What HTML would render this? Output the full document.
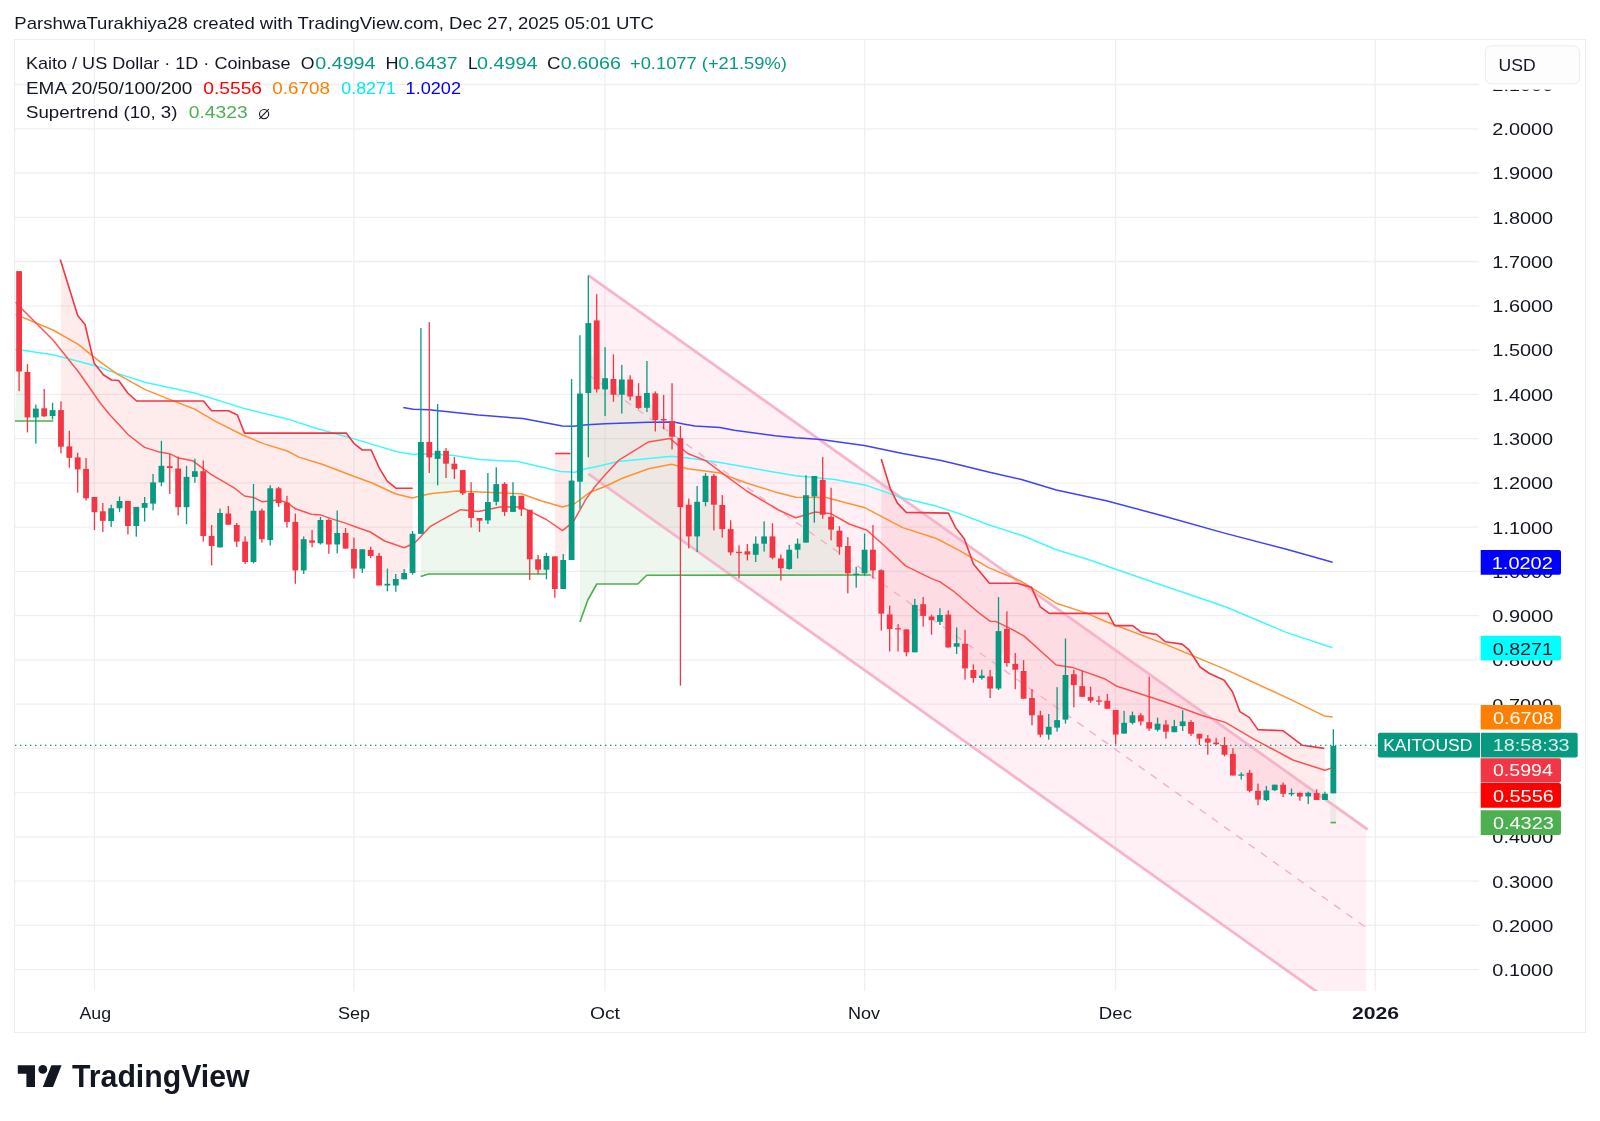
<!DOCTYPE html>
<html><head><meta charset="utf-8"><title>Kaito / US Dollar chart</title>
<style>html,body{margin:0;padding:0;background:#ffffff;width:1600px;height:1121px;overflow:hidden;position:relative;font-family:"Liberation Sans",sans-serif}</style>
</head><body>
<svg width="1600" height="1121" viewBox="0 0 1600 1121" style="position:absolute;left:0;top:0;will-change:transform">
<defs><clipPath id="pane"><rect x="15" y="40" width="1464" height="951"/></clipPath></defs>
<g stroke="#efefef" stroke-width="1.3"><line x1="15" y1="969.7" x2="1479" y2="969.7"/><line x1="15" y1="925.4" x2="1479" y2="925.4"/><line x1="15" y1="881.2" x2="1479" y2="881.2"/><line x1="15" y1="836.9" x2="1479" y2="836.9"/><line x1="15" y1="792.7" x2="1479" y2="792.7"/><line x1="15" y1="748.4" x2="1479" y2="748.4"/><line x1="15" y1="704.1" x2="1479" y2="704.1"/><line x1="15" y1="659.9" x2="1479" y2="659.9"/><line x1="15" y1="615.6" x2="1479" y2="615.6"/><line x1="15" y1="571.4" x2="1479" y2="571.4"/><line x1="15" y1="527.1" x2="1479" y2="527.1"/><line x1="15" y1="482.8" x2="1479" y2="482.8"/><line x1="15" y1="438.6" x2="1479" y2="438.6"/><line x1="15" y1="394.3" x2="1479" y2="394.3"/><line x1="15" y1="350.1" x2="1479" y2="350.1"/><line x1="15" y1="305.8" x2="1479" y2="305.8"/><line x1="15" y1="261.5" x2="1479" y2="261.5"/><line x1="15" y1="217.3" x2="1479" y2="217.3"/><line x1="15" y1="173.0" x2="1479" y2="173.0"/><line x1="15" y1="128.8" x2="1479" y2="128.8"/><line x1="15" y1="84.5" x2="1479" y2="84.5"/><line x1="94.4" y1="40" x2="94.4" y2="991"/><line x1="353.9" y1="40" x2="353.9" y2="991"/><line x1="605.1" y1="40" x2="605.1" y2="991"/><line x1="864.6" y1="40" x2="864.6" y2="991"/><line x1="1115.7" y1="40" x2="1115.7" y2="991"/><line x1="1375.2" y1="40" x2="1375.2" y2="991"/></g>
<g clip-path="url(#pane)">
<polygon points="15.0,421.0 27.5,421.0 35.8,421.0 44.2,421.0 52.6,421.0 52.6,413.1 44.2,412.3 35.8,413.0 27.5,394.7 19.1,321.3" fill="rgba(76,175,80,0.1)"/>
<polygon points="61.0,261.7 69.3,288.5 77.7,315.4 86.1,329.0 94.4,363.3 102.8,374.2 111.2,379.7 119.6,381.7 127.9,393.2 136.3,400.7 144.7,401.0 153.0,401.0 161.4,401.0 169.8,401.0 178.1,401.0 186.5,401.0 194.9,401.0 203.3,401.0 211.6,410.8 220.0,410.8 228.4,410.8 236.7,414.7 245.1,433.1 253.5,433.1 261.9,433.1 270.2,433.1 278.6,433.1 287.0,433.1 295.3,433.1 303.7,433.0 312.1,433.0 320.5,433.0 328.8,433.0 337.2,433.0 345.6,433.0 353.9,443.4 362.3,450.0 370.7,450.0 379.1,467.5 387.4,481.4 395.8,488.0 404.2,488.3 412.5,488.3 412.5,553.4 404.2,576.1 395.8,582.2 387.4,584.6 379.1,570.6 370.7,553.0 362.3,559.0 353.9,558.8 345.6,540.8 337.2,538.8 328.8,532.2 320.5,531.6 312.1,541.5 303.7,554.8 295.3,546.1 287.0,512.2 278.6,495.7 270.2,514.1 261.9,524.9 253.5,536.4 245.1,551.8 236.7,533.3 228.4,519.1 220.0,530.2 211.6,541.0 203.3,503.6 194.9,474.0 186.5,492.0 178.1,487.9 169.8,467.1 161.4,474.1 153.0,493.0 144.7,505.4 136.3,516.5 127.9,513.5 119.6,504.6 111.2,514.6 102.8,516.0 94.4,504.6 86.1,483.6 77.7,463.4 69.3,452.1 61.0,428.4" fill="rgba(242,54,69,0.1)"/>
<polygon points="420.9,576.5 429.3,574.0 437.7,574.0 446.0,574.0 454.4,574.0 462.8,574.0 471.1,574.0 479.5,574.0 487.9,574.0 496.2,574.0 504.6,574.0 513.0,574.0 521.4,574.0 529.7,574.0 538.1,574.0 546.5,574.0 546.5,562.9 538.1,564.5 529.7,534.5 521.4,502.6 513.0,503.9 504.6,497.9 496.2,493.0 487.9,511.2 479.5,519.4 471.1,505.5 462.8,481.8 454.4,466.5 446.0,457.2 437.7,454.9 429.3,449.7 420.9,487.9" fill="rgba(76,175,80,0.1)"/>
<polygon points="554.8,453.5 563.2,453.5 571.6,453.5 571.6,520.3 563.2,574.5 554.8,572.7" fill="rgba(242,54,69,0.1)"/>
<polygon points="580.0,622.1 588.3,599.1 596.7,584.2 605.1,584.0 613.4,584.0 621.8,584.0 630.2,584.0 638.6,583.3 646.9,575.3 655.3,575.3 663.7,575.3 672.0,575.3 680.4,575.3 688.8,575.2 697.2,575.2 705.5,575.2 713.9,575.2 722.3,575.2 730.6,575.2 739.0,575.2 747.4,575.2 755.7,575.2 764.1,575.1 772.5,575.1 780.9,575.1 789.2,575.1 797.6,575.1 806.0,575.1 814.3,575.1 822.7,575.1 831.1,575.1 839.5,575.0 847.8,575.0 856.2,575.0 864.6,575.0 872.9,575.0 872.9,560.0 864.6,561.5 856.2,574.1 847.8,559.6 839.5,538.8 831.1,523.2 822.7,497.2 814.3,486.2 806.0,518.9 797.6,546.7 789.2,559.4 780.9,563.4 772.5,547.0 764.1,540.0 755.7,549.2 747.4,552.9 739.0,552.3 730.6,540.8 722.3,517.0 713.9,490.2 705.5,488.9 697.2,519.1 688.8,520.5 680.4,472.6 672.0,428.9 663.7,419.7 655.3,406.7 646.9,400.4 638.6,401.9 630.2,388.0 621.8,387.1 613.4,386.9 605.1,383.8 596.7,354.9 588.3,358.1 580.0,437.6" fill="rgba(76,175,80,0.1)"/>
<polygon points="881.3,458.9 889.7,486.6 898.1,503.8 906.4,512.4 914.8,512.5 923.2,512.7 931.5,512.8 939.9,513.0 948.3,513.1 956.7,528.9 965.0,540.7 973.4,564.0 981.8,574.1 990.1,583.3 998.5,583.3 1006.9,583.3 1015.2,583.3 1023.6,585.1 1032.0,588.7 1040.4,606.8 1048.7,613.1 1057.1,613.4 1065.5,613.4 1073.8,613.4 1082.2,613.4 1090.6,613.4 1099.0,613.4 1107.3,613.4 1115.7,625.6 1124.1,625.6 1132.4,625.6 1140.8,631.9 1149.2,633.3 1157.6,635.1 1165.9,641.8 1174.3,643.0 1182.7,644.6 1191.0,652.9 1199.4,665.9 1207.8,672.4 1216.2,676.5 1224.5,680.8 1232.9,692.8 1241.3,712.5 1249.6,717.8 1258.0,729.6 1266.4,730.0 1274.8,730.4 1283.1,730.8 1291.5,737.0 1299.9,743.3 1308.2,746.1 1316.6,747.3 1325.0,748.4 1325.0,796.9 1316.6,796.5 1308.2,794.6 1299.9,794.8 1291.5,793.4 1283.1,789.2 1274.8,787.5 1266.4,795.3 1258.0,795.2 1249.6,781.8 1241.3,774.7 1232.9,764.7 1224.5,749.9 1216.2,743.4 1207.8,740.6 1199.4,736.2 1191.0,727.9 1182.7,723.8 1174.3,729.2 1165.9,728.1 1157.6,726.8 1149.2,725.4 1140.8,718.4 1132.4,719.0 1124.1,728.2 1115.7,722.3 1107.3,704.8 1099.0,700.6 1090.6,699.0 1082.2,691.5 1073.8,679.7 1065.5,697.3 1057.1,723.9 1048.7,730.7 1040.4,725.0 1032.0,706.6 1023.6,684.9 1015.2,666.8 1006.9,646.0 998.5,659.8 990.1,682.5 981.8,676.8 973.4,674.0 965.0,656.1 956.7,645.0 948.3,631.0 939.9,618.4 931.5,618.4 923.2,610.0 914.8,628.6 906.4,640.8 898.1,628.8 889.7,621.7 881.3,591.9" fill="rgba(242,54,69,0.1)"/>
<polygon points="1333.3,822.6 1333.3,769.6" fill="rgba(76,175,80,0.1)"/>
<rect x="1330.3" y="769.6" width="6" height="53.0" fill="rgba(76,175,80,0.1)"/>
<polygon points="588.4,275.4 1366.3,828.5 1366.3,1026.9 588.4,473.8" fill="rgba(233,30,99,0.065)"/>
<line x1="588.4" y1="275.4" x2="1367.7" y2="829.5" stroke="#f6b4cd" stroke-width="2.8"/>
<line x1="588.4" y1="473.8" x2="1366.3" y2="1026.9" stroke="#f6b4cd" stroke-width="2.8"/>
<line x1="588.4" y1="374.6" x2="1366.3" y2="927.7" stroke="#f4b0c8" stroke-width="1.4" stroke-dasharray="7.5 7.5"/>
<polyline points="403.3,407.6 413.2,409.3 429.2,409.8 478.5,415.0 523.0,418.6 562.4,425.9 573.1,426.3 587.0,424.8 605.0,423.8 648.5,422.3 673.5,422.1 683.5,424.0 694.9,425.9 720.0,427.5 734.2,430.3 775.0,435.7 795.7,437.8 820.7,439.6 864.2,445.5 902.7,453.5 940.0,460.2 960.0,464.9 988.5,472.1 1020.6,479.3 1056.3,490.0 1106.3,500.7 1165.2,516.5 1225.4,533.4 1285.6,549.0 1332.6,562.3" fill="none" stroke="#4040ff" stroke-width="1.5" stroke-linejoin="round"/>
<polyline points="15.5,349.2 53.0,354.7 100.0,367.1 110.0,371.1 144.6,382.3 194.6,393.0 246.3,409.1 287.3,418.9 316.8,428.5 352.4,438.4 397.0,451.7 413.1,454.4 425.0,453.8 451.8,455.3 480.0,459.4 517.8,461.6 560.6,471.4 574.9,472.3 585.6,468.7 595.0,466.9 618.2,461.6 671.7,456.2 687.8,458.0 719.9,462.4 775.0,472.3 795.7,475.8 834.9,479.4 867.0,485.6 902.7,498.1 935.0,505.7 960.0,513.9 988.5,524.7 1024.2,536.3 1056.3,549.7 1088.4,559.5 1115.0,569.0 1165.2,586.3 1225.4,606.8 1285.6,632.1 1332.6,647.8" fill="none" stroke="#40f8ff" stroke-width="1.5" stroke-linejoin="round"/>
<polyline points="15.5,314.4 53.0,330.0 78.6,344.6 100.0,361.8 117.8,374.3 144.6,389.4 171.4,400.1 194.6,409.1 216.0,421.6 242.7,435.0 264.1,443.9 287.3,451.0 298.9,457.1 322.1,464.2 352.4,475.8 372.1,483.0 395.3,493.7 412.2,498.1 430.0,493.7 457.1,491.0 496.4,492.8 521.3,493.7 541.0,500.8 562.4,507.0 574.9,503.5 589.1,492.8 605.0,486.5 621.8,478.5 648.5,468.7 671.7,464.2 687.8,468.7 719.9,473.1 746.6,483.0 775.0,491.9 795.7,497.2 825.7,497.5 864.2,507.4 902.7,527.6 936.5,538.5 960.0,550.8 988.5,567.6 1020.6,580.9 1056.3,603.2 1086.6,613.1 1105.0,621.3 1165.2,644.1 1225.4,669.4 1285.6,697.1 1324.2,715.9 1332.6,716.9" fill="none" stroke="#ff9233" stroke-width="1.5" stroke-linejoin="round"/>
<polyline points="15.5,302.2 21.0,308.0 53.0,340.0 78.6,372.0 100.0,402.8 110.0,415.0 128.5,435.0 144.6,447.4 158.9,451.9 169.6,453.7 178.5,458.1 192.8,460.8 210.6,474.2 233.8,487.6 244.5,496.0 253.4,497.4 262.4,501.8 278.4,500.0 287.3,502.7 295.4,508.8 311.4,514.2 321.2,515.1 331.0,518.6 345.3,523.1 356.0,527.0 370.3,532.0 384.6,541.0 404.2,547.7 414.9,542.7 430.0,526.7 439.3,521.3 460.7,509.7 478.5,511.5 500.0,507.0 521.3,507.0 532.0,512.4 546.3,519.5 562.4,530.6 573.1,522.2 585.6,499.9 595.0,486.5 605.0,474.9 618.2,460.7 648.5,441.9 669.9,438.4 687.8,453.5 705.6,460.7 727.0,476.7 746.6,491.0 777.8,509.7 795.7,517.8 815.3,512.0 831.4,513.8 849.2,524.0 867.0,530.2 884.9,546.3 905.6,565.9 931.0,578.4 940.0,581.9 954.2,591.7 979.2,613.1 989.9,621.2 996.2,621.6 1010.0,628.3 1024.1,636.1 1056.2,665.0 1072.3,667.4 1104.4,678.7 1117.0,686.3 1165.2,702.0 1201.3,715.2 1225.4,722.4 1254.3,739.3 1292.9,760.0 1324.9,770.3 1330.9,768.3" fill="none" stroke="#ff5252" stroke-width="1.5" stroke-linejoin="round"/>
<polyline points="60.3,259.6 77.7,315.4 85.0,324.5 94.1,362.9 103.3,374.8 111.6,380.0 118.7,380.5 127.7,393.0 136.6,401.0 203.5,401.0 211.5,410.8 228.5,410.8 237.4,415.0 244.5,433.1 346.2,433.0 354.2,443.7 362.3,450.0 371.2,450.0 379.2,467.8 387.2,481.2 396.2,488.3 412.7,488.3" fill="none" stroke="#F23645" stroke-width="1.6" stroke-linejoin="round"/>
<polyline points="555.2,453.5 570.4,453.5" fill="none" stroke="#F23645" stroke-width="1.6" stroke-linejoin="round"/>
<polyline points="881.3,458.9 890.2,488.3 897.4,503.1 906.3,512.4 948.4,513.1 955.5,527.4 964.4,539.0 973.4,564.0 989.4,583.3 1017.1,583.3 1031.3,587.2 1040.3,606.8 1049.2,613.4 1108.1,613.4 1114.6,625.6 1132.7,625.6 1141.1,632.1 1156.8,634.5 1165.2,641.7 1182.1,644.1 1189.3,650.2 1200.1,667.0 1208.6,673.0 1224.2,680.3 1232.7,692.3 1239.9,711.6 1249.5,717.6 1257.9,729.6 1283.2,730.8 1302.5,745.3 1324.2,748.4" fill="none" stroke="#F23645" stroke-width="1.6" stroke-linejoin="round"/>
<polyline points="15.0,421.0 53.3,421.0" fill="none" stroke="#4CAF50" stroke-width="1.6" stroke-linejoin="round"/>
<polyline points="420.6,576.6 428.6,574.0 546.3,574.0" fill="none" stroke="#4CAF50" stroke-width="1.6" stroke-linejoin="round"/>
<polyline points="580.0,622.1 587.8,600.0 596.8,584.0 637.8,584.0 646.7,575.3 870.6,575.0" fill="none" stroke="#4CAF50" stroke-width="1.6" stroke-linejoin="round"/>
<polyline points="1330.5,822.6 1336.0,822.6" fill="none" stroke="#4CAF50" stroke-width="1.6" stroke-linejoin="round"/>
<rect x="18.45" y="271.1" width="1.3" height="120.1" fill="#F23645"/><rect x="16.20" y="271.1" width="5.8" height="100.4" fill="#F23645"/><rect x="26.82" y="364.2" width="1.3" height="68.2" fill="#F23645"/><rect x="24.57" y="372.0" width="5.8" height="45.4" fill="#F23645"/><rect x="35.19" y="404.6" width="1.3" height="39.1" fill="#089981"/><rect x="32.94" y="408.6" width="5.8" height="8.8" fill="#089981"/><rect x="43.56" y="389.0" width="1.3" height="28.0" fill="#F23645"/><rect x="41.31" y="408.3" width="5.8" height="8.0" fill="#F23645"/><rect x="51.93" y="402.8" width="1.3" height="16.8" fill="#089981"/><rect x="49.68" y="410.1" width="5.8" height="5.9" fill="#089981"/><rect x="60.31" y="401.3" width="1.3" height="52.1" fill="#F23645"/><rect x="58.06" y="410.1" width="5.8" height="36.6" fill="#F23645"/><rect x="68.68" y="430.7" width="1.3" height="36.9" fill="#F23645"/><rect x="66.43" y="446.4" width="5.8" height="11.4" fill="#F23645"/><rect x="77.05" y="452.8" width="1.3" height="39.8" fill="#F23645"/><rect x="74.80" y="457.4" width="5.8" height="12.0" fill="#F23645"/><rect x="85.42" y="458.0" width="1.3" height="42.6" fill="#F23645"/><rect x="83.17" y="468.9" width="5.8" height="29.4" fill="#F23645"/><rect x="93.79" y="497.0" width="1.3" height="33.0" fill="#F23645"/><rect x="91.54" y="497.0" width="5.8" height="15.2" fill="#F23645"/><rect x="102.16" y="503.0" width="1.3" height="29.0" fill="#F23645"/><rect x="99.91" y="511.3" width="5.8" height="9.5" fill="#F23645"/><rect x="110.53" y="504.7" width="1.3" height="22.3" fill="#089981"/><rect x="108.28" y="508.3" width="5.8" height="12.7" fill="#089981"/><rect x="118.90" y="496.5" width="1.3" height="15.4" fill="#089981"/><rect x="116.65" y="501.0" width="5.8" height="7.3" fill="#089981"/><rect x="127.27" y="501.0" width="1.3" height="33.5" fill="#F23645"/><rect x="125.02" y="501.0" width="5.8" height="25.0" fill="#F23645"/><rect x="135.64" y="506.9" width="1.3" height="29.8" fill="#089981"/><rect x="133.39" y="506.9" width="5.8" height="19.1" fill="#089981"/><rect x="144.02" y="497.0" width="1.3" height="24.5" fill="#089981"/><rect x="141.77" y="503.0" width="5.8" height="4.8" fill="#089981"/><rect x="152.39" y="473.9" width="1.3" height="36.5" fill="#089981"/><rect x="150.14" y="482.4" width="5.8" height="21.2" fill="#089981"/><rect x="160.76" y="440.8" width="1.3" height="45.5" fill="#089981"/><rect x="158.51" y="465.8" width="5.8" height="16.6" fill="#089981"/><rect x="169.13" y="454.2" width="1.3" height="39.8" fill="#F23645"/><rect x="166.88" y="466.2" width="5.8" height="1.8" fill="#F23645"/><rect x="177.50" y="456.5" width="1.3" height="58.9" fill="#F23645"/><rect x="175.25" y="468.5" width="5.8" height="38.7" fill="#F23645"/><rect x="185.87" y="465.8" width="1.3" height="58.4" fill="#089981"/><rect x="183.62" y="476.9" width="5.8" height="30.3" fill="#089981"/><rect x="194.24" y="458.7" width="1.3" height="24.1" fill="#089981"/><rect x="191.99" y="471.2" width="5.8" height="5.7" fill="#089981"/><rect x="202.61" y="460.5" width="1.3" height="81.1" fill="#F23645"/><rect x="200.36" y="471.2" width="5.8" height="64.8" fill="#F23645"/><rect x="210.98" y="525.0" width="1.3" height="40.4" fill="#F23645"/><rect x="208.73" y="536.0" width="5.8" height="10.0" fill="#F23645"/><rect x="219.35" y="508.6" width="1.3" height="38.8" fill="#089981"/><rect x="217.10" y="513.0" width="5.8" height="34.4" fill="#089981"/><rect x="227.72" y="506.0" width="1.3" height="18.7" fill="#F23645"/><rect x="225.47" y="513.5" width="5.8" height="11.2" fill="#F23645"/><rect x="236.10" y="523.0" width="1.3" height="24.0" fill="#F23645"/><rect x="233.85" y="525.0" width="5.8" height="16.6" fill="#F23645"/><rect x="244.47" y="536.3" width="1.3" height="27.7" fill="#F23645"/><rect x="242.22" y="541.6" width="5.8" height="20.4" fill="#F23645"/><rect x="252.84" y="484.0" width="1.3" height="79.4" fill="#089981"/><rect x="250.59" y="510.8" width="5.8" height="51.2" fill="#089981"/><rect x="261.21" y="508.6" width="1.3" height="34.1" fill="#F23645"/><rect x="258.96" y="510.6" width="5.8" height="28.6" fill="#F23645"/><rect x="269.58" y="485.3" width="1.3" height="60.1" fill="#089981"/><rect x="267.33" y="488.3" width="5.8" height="51.7" fill="#089981"/><rect x="277.95" y="487.0" width="1.3" height="20.0" fill="#F23645"/><rect x="275.70" y="488.3" width="5.8" height="14.8" fill="#F23645"/><rect x="286.32" y="495.8" width="1.3" height="31.8" fill="#F23645"/><rect x="284.07" y="502.6" width="5.8" height="19.3" fill="#F23645"/><rect x="294.69" y="513.6" width="1.3" height="70.2" fill="#F23645"/><rect x="292.44" y="521.9" width="5.8" height="48.5" fill="#F23645"/><rect x="303.06" y="536.5" width="1.3" height="37.5" fill="#089981"/><rect x="300.81" y="539.2" width="5.8" height="31.2" fill="#089981"/><rect x="311.44" y="529.9" width="1.3" height="17.3" fill="#F23645"/><rect x="309.19" y="540.4" width="5.8" height="2.3" fill="#F23645"/><rect x="319.81" y="516.9" width="1.3" height="27.6" fill="#089981"/><rect x="317.56" y="520.0" width="5.8" height="23.3" fill="#089981"/><rect x="328.18" y="518.6" width="1.3" height="35.2" fill="#F23645"/><rect x="325.93" y="520.0" width="5.8" height="24.5" fill="#F23645"/><rect x="336.55" y="510.6" width="1.3" height="42.8" fill="#089981"/><rect x="334.30" y="533.0" width="5.8" height="11.5" fill="#089981"/><rect x="344.92" y="528.0" width="1.3" height="20.6" fill="#F23645"/><rect x="342.67" y="533.0" width="5.8" height="15.6" fill="#F23645"/><rect x="353.29" y="537.7" width="1.3" height="40.7" fill="#F23645"/><rect x="351.04" y="549.0" width="5.8" height="19.6" fill="#F23645"/><rect x="361.66" y="549.3" width="1.3" height="23.7" fill="#089981"/><rect x="359.41" y="549.3" width="5.8" height="19.3" fill="#089981"/><rect x="370.03" y="546.8" width="1.3" height="11.2" fill="#F23645"/><rect x="367.78" y="549.9" width="5.8" height="6.1" fill="#F23645"/><rect x="378.40" y="553.0" width="1.3" height="32.5" fill="#F23645"/><rect x="376.15" y="555.8" width="5.8" height="29.7" fill="#F23645"/><rect x="386.77" y="568.6" width="1.3" height="22.7" fill="#089981"/><rect x="384.52" y="583.8" width="5.8" height="1.7" fill="#089981"/><rect x="395.15" y="574.0" width="1.3" height="17.8" fill="#089981"/><rect x="392.90" y="579.0" width="5.8" height="6.5" fill="#089981"/><rect x="403.52" y="569.0" width="1.3" height="10.3" fill="#089981"/><rect x="401.27" y="573.0" width="5.8" height="6.3" fill="#089981"/><rect x="411.89" y="531.0" width="1.3" height="43.8" fill="#089981"/><rect x="409.64" y="533.8" width="5.8" height="39.2" fill="#089981"/><rect x="420.26" y="327.9" width="1.3" height="205.9" fill="#089981"/><rect x="418.01" y="442.0" width="5.8" height="91.8" fill="#089981"/><rect x="428.63" y="322.1" width="1.3" height="150.9" fill="#F23645"/><rect x="426.38" y="442.0" width="5.8" height="15.4" fill="#F23645"/><rect x="437.00" y="404.0" width="1.3" height="81.3" fill="#089981"/><rect x="434.75" y="450.8" width="5.8" height="8.1" fill="#089981"/><rect x="445.37" y="448.0" width="1.3" height="30.0" fill="#F23645"/><rect x="443.12" y="450.8" width="5.8" height="12.9" fill="#F23645"/><rect x="453.74" y="457.0" width="1.3" height="22.0" fill="#F23645"/><rect x="451.49" y="463.7" width="5.8" height="5.6" fill="#F23645"/><rect x="462.11" y="470.1" width="1.3" height="24.9" fill="#F23645"/><rect x="459.86" y="470.1" width="5.8" height="23.3" fill="#F23645"/><rect x="470.48" y="482.2" width="1.3" height="45.3" fill="#F23645"/><rect x="468.23" y="493.0" width="5.8" height="25.0" fill="#F23645"/><rect x="478.86" y="518.0" width="1.3" height="14.0" fill="#F23645"/><rect x="476.61" y="518.0" width="5.8" height="2.7" fill="#F23645"/><rect x="487.23" y="473.0" width="1.3" height="51.0" fill="#089981"/><rect x="484.98" y="502.0" width="5.8" height="18.4" fill="#089981"/><rect x="495.60" y="467.3" width="1.3" height="38.2" fill="#089981"/><rect x="493.35" y="484.1" width="5.8" height="17.7" fill="#089981"/><rect x="503.97" y="482.2" width="1.3" height="33.8" fill="#F23645"/><rect x="501.72" y="483.8" width="5.8" height="28.1" fill="#F23645"/><rect x="512.34" y="482.2" width="1.3" height="29.7" fill="#089981"/><rect x="510.09" y="495.8" width="5.8" height="16.1" fill="#089981"/><rect x="520.71" y="495.8" width="1.3" height="20.2" fill="#F23645"/><rect x="518.46" y="495.8" width="5.8" height="13.7" fill="#F23645"/><rect x="529.08" y="509.8" width="1.3" height="70.2" fill="#F23645"/><rect x="526.83" y="509.8" width="5.8" height="49.5" fill="#F23645"/><rect x="537.45" y="555.0" width="1.3" height="19.2" fill="#F23645"/><rect x="535.20" y="559.3" width="5.8" height="10.4" fill="#F23645"/><rect x="545.82" y="552.8" width="1.3" height="26.5" fill="#089981"/><rect x="543.57" y="556.0" width="5.8" height="13.7" fill="#089981"/><rect x="554.19" y="556.4" width="1.3" height="41.4" fill="#F23645"/><rect x="551.94" y="556.4" width="5.8" height="32.6" fill="#F23645"/><rect x="562.57" y="554.0" width="1.3" height="35.0" fill="#089981"/><rect x="560.32" y="560.0" width="5.8" height="29.0" fill="#089981"/><rect x="570.94" y="379.0" width="1.3" height="181.0" fill="#089981"/><rect x="568.69" y="480.6" width="5.8" height="79.4" fill="#089981"/><rect x="579.31" y="335.2" width="1.3" height="173.5" fill="#089981"/><rect x="577.06" y="393.5" width="5.8" height="88.2" fill="#089981"/><rect x="587.68" y="275.4" width="1.3" height="181.9" fill="#089981"/><rect x="585.43" y="323.1" width="5.8" height="69.9" fill="#089981"/><rect x="596.05" y="294.2" width="1.3" height="98.4" fill="#F23645"/><rect x="593.80" y="320.4" width="5.8" height="69.0" fill="#F23645"/><rect x="604.42" y="347.2" width="1.3" height="68.8" fill="#089981"/><rect x="602.17" y="378.2" width="5.8" height="11.2" fill="#089981"/><rect x="612.79" y="354.4" width="1.3" height="47.4" fill="#F23645"/><rect x="610.54" y="379.0" width="5.8" height="15.7" fill="#F23645"/><rect x="621.16" y="364.9" width="1.3" height="48.6" fill="#089981"/><rect x="618.91" y="379.5" width="5.8" height="15.2" fill="#089981"/><rect x="629.53" y="375.3" width="1.3" height="25.1" fill="#F23645"/><rect x="627.28" y="379.5" width="5.8" height="17.0" fill="#F23645"/><rect x="637.90" y="383.2" width="1.3" height="25.8" fill="#F23645"/><rect x="635.65" y="395.9" width="5.8" height="12.0" fill="#F23645"/><rect x="646.28" y="361.0" width="1.3" height="51.0" fill="#089981"/><rect x="644.03" y="393.0" width="5.8" height="14.8" fill="#089981"/><rect x="654.65" y="391.4" width="1.3" height="40.1" fill="#F23645"/><rect x="652.40" y="393.4" width="5.8" height="26.6" fill="#F23645"/><rect x="663.02" y="395.0" width="1.3" height="34.3" fill="#F23645"/><rect x="660.77" y="419.0" width="5.8" height="1.4" fill="#F23645"/><rect x="671.39" y="383.2" width="1.3" height="66.3" fill="#F23645"/><rect x="669.14" y="421.0" width="5.8" height="15.7" fill="#F23645"/><rect x="679.76" y="426.0" width="1.3" height="259.6" fill="#F23645"/><rect x="677.51" y="438.1" width="5.8" height="69.0" fill="#F23645"/><rect x="688.13" y="498.6" width="1.3" height="49.8" fill="#F23645"/><rect x="685.88" y="504.7" width="5.8" height="31.7" fill="#F23645"/><rect x="696.50" y="486.0" width="1.3" height="66.0" fill="#089981"/><rect x="694.25" y="501.8" width="5.8" height="34.6" fill="#089981"/><rect x="704.87" y="473.1" width="1.3" height="33.2" fill="#089981"/><rect x="702.62" y="475.8" width="5.8" height="26.2" fill="#089981"/><rect x="713.24" y="474.0" width="1.3" height="56.4" fill="#F23645"/><rect x="710.99" y="475.8" width="5.8" height="28.9" fill="#F23645"/><rect x="721.61" y="495.1" width="1.3" height="42.5" fill="#F23645"/><rect x="719.36" y="505.0" width="5.8" height="24.1" fill="#F23645"/><rect x="729.99" y="520.3" width="1.3" height="35.0" fill="#F23645"/><rect x="727.74" y="529.1" width="5.8" height="23.3" fill="#F23645"/><rect x="738.36" y="545.4" width="1.3" height="32.9" fill="#F23645"/><rect x="736.11" y="551.8" width="5.8" height="1.3" fill="#F23645"/><rect x="746.73" y="544.0" width="1.3" height="16.4" fill="#F23645"/><rect x="744.48" y="551.3" width="5.8" height="3.2" fill="#F23645"/><rect x="755.10" y="536.4" width="1.3" height="25.6" fill="#089981"/><rect x="752.85" y="543.7" width="5.8" height="11.1" fill="#089981"/><rect x="763.47" y="521.3" width="1.3" height="30.3" fill="#089981"/><rect x="761.22" y="536.4" width="5.8" height="7.3" fill="#089981"/><rect x="771.84" y="523.2" width="1.3" height="36.1" fill="#F23645"/><rect x="769.59" y="536.4" width="5.8" height="21.3" fill="#F23645"/><rect x="780.21" y="554.5" width="1.3" height="26.0" fill="#F23645"/><rect x="777.96" y="558.5" width="5.8" height="9.7" fill="#F23645"/><rect x="788.58" y="544.9" width="1.3" height="24.9" fill="#089981"/><rect x="786.33" y="549.7" width="5.8" height="19.3" fill="#089981"/><rect x="796.95" y="538.5" width="1.3" height="20.0" fill="#089981"/><rect x="794.70" y="543.7" width="5.8" height="6.0" fill="#089981"/><rect x="805.32" y="475.2" width="1.3" height="67.4" fill="#089981"/><rect x="803.07" y="495.2" width="5.8" height="47.4" fill="#089981"/><rect x="813.70" y="476.0" width="1.3" height="46.7" fill="#089981"/><rect x="811.45" y="476.0" width="5.8" height="20.5" fill="#089981"/><rect x="822.07" y="456.9" width="1.3" height="61.8" fill="#F23645"/><rect x="819.82" y="479.8" width="5.8" height="34.9" fill="#F23645"/><rect x="830.44" y="487.7" width="1.3" height="52.7" fill="#F23645"/><rect x="828.19" y="516.7" width="5.8" height="12.9" fill="#F23645"/><rect x="838.81" y="526.2" width="1.3" height="28.6" fill="#F23645"/><rect x="836.56" y="530.7" width="5.8" height="16.1" fill="#F23645"/><rect x="847.18" y="537.1" width="1.3" height="56.2" fill="#F23645"/><rect x="844.93" y="546.0" width="5.8" height="27.3" fill="#F23645"/><rect x="855.55" y="566.8" width="1.3" height="20.9" fill="#089981"/><rect x="853.30" y="573.7" width="5.8" height="1.3" fill="#089981"/><rect x="863.92" y="533.6" width="1.3" height="42.1" fill="#089981"/><rect x="861.67" y="549.7" width="5.8" height="23.6" fill="#089981"/><rect x="872.29" y="525.1" width="1.3" height="53.4" fill="#F23645"/><rect x="870.04" y="549.7" width="5.8" height="20.7" fill="#F23645"/><rect x="880.66" y="569.3" width="1.3" height="61.3" fill="#F23645"/><rect x="878.41" y="570.2" width="5.8" height="43.4" fill="#F23645"/><rect x="889.03" y="605.6" width="1.3" height="45.9" fill="#F23645"/><rect x="886.78" y="614.4" width="5.8" height="14.6" fill="#F23645"/><rect x="897.41" y="624.2" width="1.3" height="27.3" fill="#F23645"/><rect x="895.16" y="628.2" width="5.8" height="1.3" fill="#F23645"/><rect x="905.78" y="629.4" width="1.3" height="26.9" fill="#F23645"/><rect x="903.53" y="629.4" width="5.8" height="22.9" fill="#F23645"/><rect x="914.15" y="598.9" width="1.3" height="53.4" fill="#089981"/><rect x="911.90" y="605.0" width="5.8" height="47.3" fill="#089981"/><rect x="922.52" y="597.0" width="1.3" height="29.6" fill="#F23645"/><rect x="920.27" y="604.2" width="5.8" height="11.7" fill="#F23645"/><rect x="930.89" y="614.6" width="1.3" height="20.1" fill="#F23645"/><rect x="928.64" y="616.5" width="5.8" height="3.7" fill="#F23645"/><rect x="939.26" y="608.2" width="1.3" height="16.8" fill="#089981"/><rect x="937.01" y="615.0" width="5.8" height="6.8" fill="#089981"/><rect x="947.63" y="610.3" width="1.3" height="37.2" fill="#F23645"/><rect x="945.38" y="614.6" width="5.8" height="32.9" fill="#F23645"/><rect x="956.00" y="627.4" width="1.3" height="26.5" fill="#089981"/><rect x="953.75" y="643.2" width="5.8" height="3.5" fill="#089981"/><rect x="964.37" y="629.8" width="1.3" height="49.8" fill="#F23645"/><rect x="962.12" y="643.8" width="5.8" height="24.6" fill="#F23645"/><rect x="972.74" y="664.4" width="1.3" height="18.4" fill="#F23645"/><rect x="970.49" y="670.0" width="5.8" height="8.0" fill="#F23645"/><rect x="981.12" y="669.7" width="1.3" height="9.9" fill="#089981"/><rect x="978.87" y="675.6" width="5.8" height="2.4" fill="#089981"/><rect x="989.49" y="670.0" width="1.3" height="28.0" fill="#F23645"/><rect x="987.24" y="676.4" width="5.8" height="12.1" fill="#F23645"/><rect x="997.86" y="597.0" width="1.3" height="93.0" fill="#089981"/><rect x="995.61" y="631.1" width="5.8" height="57.4" fill="#089981"/><rect x="1006.23" y="611.3" width="1.3" height="55.4" fill="#F23645"/><rect x="1003.98" y="629.0" width="5.8" height="34.0" fill="#F23645"/><rect x="1014.60" y="653.0" width="1.3" height="36.2" fill="#F23645"/><rect x="1012.35" y="663.9" width="5.8" height="5.8" fill="#F23645"/><rect x="1022.97" y="660.2" width="1.3" height="38.5" fill="#F23645"/><rect x="1020.72" y="671.0" width="5.8" height="27.7" fill="#F23645"/><rect x="1031.34" y="689.1" width="1.3" height="36.1" fill="#F23645"/><rect x="1029.09" y="698.0" width="5.8" height="17.3" fill="#F23645"/><rect x="1039.71" y="710.8" width="1.3" height="26.5" fill="#F23645"/><rect x="1037.46" y="715.3" width="5.8" height="19.3" fill="#F23645"/><rect x="1048.08" y="714.0" width="1.3" height="25.7" fill="#089981"/><rect x="1045.83" y="726.8" width="5.8" height="7.8" fill="#089981"/><rect x="1056.45" y="687.2" width="1.3" height="44.5" fill="#089981"/><rect x="1054.20" y="720.1" width="5.8" height="7.5" fill="#089981"/><rect x="1064.82" y="638.5" width="1.3" height="85.1" fill="#089981"/><rect x="1062.57" y="675.0" width="5.8" height="44.6" fill="#089981"/><rect x="1073.20" y="669.8" width="1.3" height="37.5" fill="#F23645"/><rect x="1070.95" y="674.2" width="5.8" height="10.9" fill="#F23645"/><rect x="1081.57" y="670.6" width="1.3" height="26.2" fill="#F23645"/><rect x="1079.32" y="686.2" width="5.8" height="10.6" fill="#F23645"/><rect x="1089.94" y="686.7" width="1.3" height="16.1" fill="#F23645"/><rect x="1087.69" y="697.1" width="5.8" height="3.7" fill="#F23645"/><rect x="1098.31" y="696.0" width="1.3" height="9.2" fill="#F23645"/><rect x="1096.06" y="700.4" width="5.8" height="1.3" fill="#F23645"/><rect x="1106.68" y="694.0" width="1.3" height="14.7" fill="#F23645"/><rect x="1104.43" y="700.8" width="5.8" height="7.9" fill="#F23645"/><rect x="1115.05" y="710.0" width="1.3" height="34.5" fill="#F23645"/><rect x="1112.80" y="710.0" width="5.8" height="24.6" fill="#F23645"/><rect x="1123.42" y="710.8" width="1.3" height="22.8" fill="#089981"/><rect x="1121.17" y="722.8" width="5.8" height="10.8" fill="#089981"/><rect x="1131.79" y="711.6" width="1.3" height="12.8" fill="#089981"/><rect x="1129.54" y="715.3" width="5.8" height="7.5" fill="#089981"/><rect x="1140.16" y="713.2" width="1.3" height="12.4" fill="#F23645"/><rect x="1137.91" y="715.3" width="5.8" height="6.2" fill="#F23645"/><rect x="1148.53" y="676.7" width="1.3" height="54.2" fill="#F23645"/><rect x="1146.28" y="722.2" width="5.8" height="6.4" fill="#F23645"/><rect x="1156.91" y="717.6" width="1.3" height="13.9" fill="#089981"/><rect x="1154.66" y="723.7" width="5.8" height="6.1" fill="#089981"/><rect x="1165.28" y="720.1" width="1.3" height="18.5" fill="#F23645"/><rect x="1163.03" y="724.5" width="5.8" height="7.2" fill="#F23645"/><rect x="1173.65" y="719.8" width="1.3" height="12.4" fill="#089981"/><rect x="1171.40" y="726.2" width="5.8" height="6.0" fill="#089981"/><rect x="1182.02" y="710.2" width="1.3" height="20.8" fill="#089981"/><rect x="1179.77" y="721.4" width="5.8" height="4.7" fill="#089981"/><rect x="1190.39" y="720.1" width="1.3" height="15.8" fill="#F23645"/><rect x="1188.14" y="722.0" width="5.8" height="11.8" fill="#F23645"/><rect x="1198.76" y="733.8" width="1.3" height="11.2" fill="#F23645"/><rect x="1196.51" y="733.8" width="5.8" height="4.8" fill="#F23645"/><rect x="1207.13" y="735.0" width="1.3" height="19.7" fill="#F23645"/><rect x="1204.88" y="738.6" width="5.8" height="4.0" fill="#F23645"/><rect x="1215.50" y="737.8" width="1.3" height="7.2" fill="#F23645"/><rect x="1213.25" y="742.6" width="5.8" height="1.6" fill="#F23645"/><rect x="1223.87" y="737.0" width="1.3" height="19.3" fill="#F23645"/><rect x="1221.62" y="745.0" width="5.8" height="9.7" fill="#F23645"/><rect x="1232.24" y="748.2" width="1.3" height="27.3" fill="#F23645"/><rect x="1229.99" y="753.9" width="5.8" height="21.6" fill="#F23645"/><rect x="1240.62" y="772.3" width="1.3" height="7.2" fill="#089981"/><rect x="1238.37" y="774.4" width="5.8" height="1.3" fill="#089981"/><rect x="1248.99" y="769.9" width="1.3" height="22.5" fill="#F23645"/><rect x="1246.74" y="772.8" width="5.8" height="18.0" fill="#F23645"/><rect x="1257.36" y="783.6" width="1.3" height="21.6" fill="#F23645"/><rect x="1255.11" y="790.8" width="5.8" height="8.8" fill="#F23645"/><rect x="1265.73" y="786.0" width="1.3" height="15.2" fill="#089981"/><rect x="1263.48" y="790.5" width="5.8" height="9.6" fill="#089981"/><rect x="1274.10" y="784.7" width="1.3" height="6.4" fill="#089981"/><rect x="1271.85" y="784.7" width="5.8" height="5.5" fill="#089981"/><rect x="1282.47" y="782.5" width="1.3" height="14.6" fill="#F23645"/><rect x="1280.22" y="784.7" width="5.8" height="9.1" fill="#F23645"/><rect x="1290.84" y="788.6" width="1.3" height="7.6" fill="#089981"/><rect x="1288.59" y="793.0" width="5.8" height="1.3" fill="#089981"/><rect x="1299.21" y="792.4" width="1.3" height="8.4" fill="#F23645"/><rect x="1296.96" y="793.0" width="5.8" height="3.6" fill="#F23645"/><rect x="1307.58" y="791.7" width="1.3" height="12.4" fill="#089981"/><rect x="1305.33" y="792.8" width="5.8" height="3.6" fill="#089981"/><rect x="1315.95" y="789.3" width="1.3" height="10.7" fill="#F23645"/><rect x="1313.70" y="793.0" width="5.8" height="7.0" fill="#F23645"/><rect x="1324.33" y="791.7" width="1.3" height="8.3" fill="#089981"/><rect x="1322.08" y="793.7" width="5.8" height="6.3" fill="#089981"/><rect x="1332.70" y="729.2" width="1.3" height="64.1" fill="#089981"/><rect x="1330.45" y="745.9" width="5.8" height="47.4" fill="#089981"/>
<line x1="15" y1="745.4" x2="1479" y2="745.4" stroke="#089981" stroke-width="1.4" stroke-dasharray="1.4 3.6"/>
</g>
<rect x="14.5" y="39.5" width="1571" height="993" fill="none" stroke="#ececec" stroke-width="1"/>
<text id="t_p1" x="1492.37" y="976.10" font-family="Liberation Sans, sans-serif" font-size="17" font-weight="normal" fill="#131722" textLength="60.85" lengthAdjust="spacingAndGlyphs">0.1000</text><text id="t_p2" x="1492.37" y="931.84" font-family="Liberation Sans, sans-serif" font-size="17" font-weight="normal" fill="#131722" textLength="60.85" lengthAdjust="spacingAndGlyphs">0.2000</text><text id="t_p3" x="1492.37" y="887.58" font-family="Liberation Sans, sans-serif" font-size="17" font-weight="normal" fill="#131722" textLength="60.85" lengthAdjust="spacingAndGlyphs">0.3000</text><text id="t_p4" x="1492.37" y="843.32" font-family="Liberation Sans, sans-serif" font-size="17" font-weight="normal" fill="#131722" textLength="60.85" lengthAdjust="spacingAndGlyphs">0.4000</text><text id="t_p5" x="1492.37" y="799.06" font-family="Liberation Sans, sans-serif" font-size="17" font-weight="normal" fill="#131722" textLength="60.85" lengthAdjust="spacingAndGlyphs">0.5000</text><text id="t_p6" x="1492.37" y="754.80" font-family="Liberation Sans, sans-serif" font-size="17" font-weight="normal" fill="#131722" textLength="60.85" lengthAdjust="spacingAndGlyphs">0.6000</text><text id="t_p7" x="1492.37" y="710.54" font-family="Liberation Sans, sans-serif" font-size="17" font-weight="normal" fill="#131722" textLength="60.85" lengthAdjust="spacingAndGlyphs">0.7000</text><text id="t_p8" x="1492.37" y="666.28" font-family="Liberation Sans, sans-serif" font-size="17" font-weight="normal" fill="#131722" textLength="60.85" lengthAdjust="spacingAndGlyphs">0.8000</text><text id="t_p9" x="1492.37" y="622.02" font-family="Liberation Sans, sans-serif" font-size="17" font-weight="normal" fill="#131722" textLength="60.85" lengthAdjust="spacingAndGlyphs">0.9000</text><text id="t_p10" x="1492.34" y="577.76" font-family="Liberation Sans, sans-serif" font-size="17" font-weight="normal" fill="#131722" textLength="60.87" lengthAdjust="spacingAndGlyphs">1.0000</text><text id="t_p11" x="1492.34" y="533.50" font-family="Liberation Sans, sans-serif" font-size="17" font-weight="normal" fill="#131722" textLength="60.87" lengthAdjust="spacingAndGlyphs">1.1000</text><text id="t_p12" x="1492.34" y="489.24" font-family="Liberation Sans, sans-serif" font-size="17" font-weight="normal" fill="#131722" textLength="60.87" lengthAdjust="spacingAndGlyphs">1.2000</text><text id="t_p13" x="1492.34" y="444.98" font-family="Liberation Sans, sans-serif" font-size="17" font-weight="normal" fill="#131722" textLength="60.87" lengthAdjust="spacingAndGlyphs">1.3000</text><text id="t_p14" x="1492.34" y="400.72" font-family="Liberation Sans, sans-serif" font-size="17" font-weight="normal" fill="#131722" textLength="60.87" lengthAdjust="spacingAndGlyphs">1.4000</text><text id="t_p15" x="1492.34" y="356.46" font-family="Liberation Sans, sans-serif" font-size="17" font-weight="normal" fill="#131722" textLength="60.87" lengthAdjust="spacingAndGlyphs">1.5000</text><text id="t_p16" x="1492.34" y="312.20" font-family="Liberation Sans, sans-serif" font-size="17" font-weight="normal" fill="#131722" textLength="60.87" lengthAdjust="spacingAndGlyphs">1.6000</text><text id="t_p17" x="1492.34" y="267.94" font-family="Liberation Sans, sans-serif" font-size="17" font-weight="normal" fill="#131722" textLength="60.87" lengthAdjust="spacingAndGlyphs">1.7000</text><text id="t_p18" x="1492.34" y="223.68" font-family="Liberation Sans, sans-serif" font-size="17" font-weight="normal" fill="#131722" textLength="60.87" lengthAdjust="spacingAndGlyphs">1.8000</text><text id="t_p19" x="1492.34" y="179.42" font-family="Liberation Sans, sans-serif" font-size="17" font-weight="normal" fill="#131722" textLength="60.87" lengthAdjust="spacingAndGlyphs">1.9000</text><text id="t_p20" x="1492.37" y="135.16" font-family="Liberation Sans, sans-serif" font-size="17" font-weight="normal" fill="#131722" textLength="60.85" lengthAdjust="spacingAndGlyphs">2.0000</text><text id="t_p21" x="1492.37" y="90.90" font-family="Liberation Sans, sans-serif" font-size="17" font-weight="normal" fill="#131722" textLength="60.85" lengthAdjust="spacingAndGlyphs">2.1000</text>
<rect x="1480" y="40.5" width="105" height="49.2" fill="#ffffff"/>
<rect x="1485.4" y="45.8" width="94" height="38" rx="6" fill="#fdfdfd" stroke="#ebebeb" stroke-width="1"/>
<text id="t_usd" x="1498.50" y="70.70" font-family="Liberation Sans, sans-serif" font-size="17" font-weight="normal" fill="#131722" textLength="37.12" lengthAdjust="spacingAndGlyphs">USD</text>
<path d="M1480.7,550.0 H1559 a2,2 0 0 1 2,2 V572.8 a2,2 0 0 1 -2,2 H1480.7 Z" fill="#0000ff"/><text id="t_lab1" x="1491.74" y="568.80" font-family="Liberation Sans, sans-serif" font-size="17" font-weight="normal" fill="#ffffff" textLength="61.12" lengthAdjust="spacingAndGlyphs">1.0202</text>
<path d="M1480.7,635.8 H1559 a2,2 0 0 1 2,2 V658.6 a2,2 0 0 1 -2,2 H1480.7 Z" fill="#00ffff"/><text id="t_lab2" x="1492.78" y="654.60" font-family="Liberation Sans, sans-serif" font-size="17" font-weight="normal" fill="#131722" textLength="60.04" lengthAdjust="spacingAndGlyphs">0.8271</text>
<path d="M1480.7,705.0 H1559 a2,2 0 0 1 2,2 V727.5 a2,2 0 0 1 -2,2 H1480.7 Z" fill="#ff8000"/><text id="t_lab3" x="1492.98" y="723.60" font-family="Liberation Sans, sans-serif" font-size="17" font-weight="normal" fill="#ffffff" textLength="60.84" lengthAdjust="spacingAndGlyphs">0.6708</text>
<path d="M1480.7,758.2 H1559 a2,2 0 0 1 2,2 V780.5 a2,2 0 0 1 -2,2 H1480.7 Z" fill="#f23645"/><text id="t_lab4" x="1492.99" y="776.40" font-family="Liberation Sans, sans-serif" font-size="17" font-weight="normal" fill="#ffffff" textLength="59.82" lengthAdjust="spacingAndGlyphs">0.5994</text>
<path d="M1480.7,783.0 H1559 a2,2 0 0 1 2,2 V805.8 a2,2 0 0 1 -2,2 H1480.7 Z" fill="#ff0000"/><text id="t_lab5" x="1492.98" y="801.80" font-family="Liberation Sans, sans-serif" font-size="17" font-weight="normal" fill="#ffffff" textLength="60.84" lengthAdjust="spacingAndGlyphs">0.5556</text>
<path d="M1480.7,810.3 H1559 a2,2 0 0 1 2,2 V832.9 a2,2 0 0 1 -2,2 H1480.7 Z" fill="#4caf50"/><text id="t_lab6" x="1492.98" y="829.00" font-family="Liberation Sans, sans-serif" font-size="17" font-weight="normal" fill="#ffffff" textLength="60.84" lengthAdjust="spacingAndGlyphs">0.4323</text>
<path d="M1480,732.8 H1379.9 a2,2 0 0 0 -2,2 V755.5 a2,2 0 0 0 2,2 H1480 Z" fill="#089981"/>
<path d="M1481,732.8 H1575.7 a2,2 0 0 1 2,2 V755.5 a2,2 0 0 1 -2,2 H1481 Z" fill="#089981"/>
<text id="t_kai" x="1383.16" y="751.40" font-family="Liberation Sans, sans-serif" font-size="17" font-weight="normal" fill="#ffffff" textLength="89.27" lengthAdjust="spacingAndGlyphs">KAITOUSD</text><text id="t_timer" x="1492.74" y="751.40" font-family="Liberation Sans, sans-serif" font-size="17" font-weight="normal" fill="#d9f0ea" textLength="76.88" lengthAdjust="spacingAndGlyphs">18:58:33</text>
<text id="t_aug" x="79.40" y="1019.00" font-family="Liberation Sans, sans-serif" font-size="16.5" font-weight="normal" fill="#131722" textLength="31.62" lengthAdjust="spacingAndGlyphs">Aug</text>
<text id="t_sep" x="337.94" y="1019.00" font-family="Liberation Sans, sans-serif" font-size="16.5" font-weight="normal" fill="#131722" textLength="32.08" lengthAdjust="spacingAndGlyphs">Sep</text>
<text id="t_oct" x="589.95" y="1019.00" font-family="Liberation Sans, sans-serif" font-size="16.5" font-weight="normal" fill="#131722" textLength="30.05" lengthAdjust="spacingAndGlyphs">Oct</text>
<text id="t_nov" x="847.92" y="1019.00" font-family="Liberation Sans, sans-serif" font-size="16.5" font-weight="normal" fill="#131722" textLength="32.08" lengthAdjust="spacingAndGlyphs">Nov</text>
<text id="t_dec" x="1098.88" y="1019.00" font-family="Liberation Sans, sans-serif" font-size="16.5" font-weight="normal" fill="#131722" textLength="33.14" lengthAdjust="spacingAndGlyphs">Dec</text>
<text id="t_y2026" x="1351.98" y="1019.00" font-family="Liberation Sans, sans-serif" font-size="16.5" font-weight="bold" fill="#131722" textLength="47.06" lengthAdjust="spacingAndGlyphs">2026</text>
<text id="t_header" x="14.39" y="29.40" font-family="Liberation Sans, sans-serif" font-size="17" font-weight="normal" fill="#131722" textLength="639.61" lengthAdjust="spacingAndGlyphs">ParshwaTurakhiya28 created with TradingView.com, Dec 27, 2025 05:01 UTC</text>
<text id="t_k1" x="25.99" y="68.90" font-family="Liberation Sans, sans-serif" font-size="17" font-weight="normal" fill="#131722" textLength="264.61" lengthAdjust="spacingAndGlyphs">Kaito / US Dollar · 1D · Coinbase</text>
<text id="t_O" x="300.86" y="68.90" font-family="Liberation Sans, sans-serif" font-size="17" font-weight="normal" fill="#131722" textLength="13.74" lengthAdjust="spacingAndGlyphs">O</text>
<text id="t_o" x="315.18" y="68.90" font-family="Liberation Sans, sans-serif" font-size="17" font-weight="normal" fill="#089981" textLength="60.43" lengthAdjust="spacingAndGlyphs">0.4994</text>
<text id="t_H" x="385.44" y="68.90" font-family="Liberation Sans, sans-serif" font-size="17" font-weight="normal" fill="#131722" textLength="13.01" lengthAdjust="spacingAndGlyphs">H</text>
<text id="t_h" x="398.37" y="68.90" font-family="Liberation Sans, sans-serif" font-size="17" font-weight="normal" fill="#089981" textLength="59.25" lengthAdjust="spacingAndGlyphs">0.6437</text>
<text id="t_L" x="467.91" y="68.90" font-family="Liberation Sans, sans-serif" font-size="17" font-weight="normal" fill="#131722" textLength="9.64" lengthAdjust="spacingAndGlyphs">L</text>
<text id="t_l" x="476.98" y="68.90" font-family="Liberation Sans, sans-serif" font-size="17" font-weight="normal" fill="#089981" textLength="60.43" lengthAdjust="spacingAndGlyphs">0.4994</text>
<text id="t_C" x="547.06" y="68.90" font-family="Liberation Sans, sans-serif" font-size="17" font-weight="normal" fill="#131722" textLength="13.47" lengthAdjust="spacingAndGlyphs">C</text>
<text id="t_c" x="560.78" y="68.90" font-family="Liberation Sans, sans-serif" font-size="17" font-weight="normal" fill="#089981" textLength="60.04" lengthAdjust="spacingAndGlyphs">0.6066</text>
<text id="t_chg" x="629.99" y="68.90" font-family="Liberation Sans, sans-serif" font-size="17" font-weight="normal" fill="#089981" textLength="156.83" lengthAdjust="spacingAndGlyphs">+0.1077 (+21.59%)</text>
<text id="t_ema" x="25.98" y="93.80" font-family="Liberation Sans, sans-serif" font-size="17" font-weight="normal" fill="#131722" textLength="166.43" lengthAdjust="spacingAndGlyphs">EMA 20/50/100/200</text>
<text id="t_e20" x="203.19" y="93.80" font-family="Liberation Sans, sans-serif" font-size="17" font-weight="normal" fill="#ff0000" textLength="58.84" lengthAdjust="spacingAndGlyphs">0.5556</text>
<text id="t_e50" x="272.38" y="93.80" font-family="Liberation Sans, sans-serif" font-size="17" font-weight="normal" fill="#ff8000" textLength="57.46" lengthAdjust="spacingAndGlyphs">0.6708</text>
<text id="t_e100" x="341.39" y="93.80" font-family="Liberation Sans, sans-serif" font-size="17" font-weight="normal" fill="#00e8f0" textLength="54.41" lengthAdjust="spacingAndGlyphs">0.8271</text>
<text id="t_e200" x="405.55" y="93.80" font-family="Liberation Sans, sans-serif" font-size="17" font-weight="normal" fill="#0000ff" textLength="55.47" lengthAdjust="spacingAndGlyphs">1.0202</text>
<text id="t_st" x="25.99" y="118.30" font-family="Liberation Sans, sans-serif" font-size="17" font-weight="normal" fill="#131722" textLength="151.43" lengthAdjust="spacingAndGlyphs">Supertrend (10, 3)</text>
<text id="t_stv" x="188.79" y="118.30" font-family="Liberation Sans, sans-serif" font-size="17" font-weight="normal" fill="#4caf50" textLength="58.84" lengthAdjust="spacingAndGlyphs">0.4323</text>
<text id="t_tv" x="72.00" y="1087.00" font-family="Liberation Sans, sans-serif" font-size="32" font-weight="bold" fill="#131722" textLength="177.60" lengthAdjust="spacingAndGlyphs">TradingView</text>
<g stroke="#131722" stroke-width="1.1" fill="none"><circle cx="264.1" cy="114.1" r="4.6"/><line x1="259.4" y1="118.8" x2="268.8" y2="109.2"/></g>
<g fill="#131722"><path d="M17.8,1065.2 H35 V1087 H26.4 V1073.8 H17.8 Z"/><circle cx="42.8" cy="1069.4" r="4.4"/><path d="M51.4,1065.2 H61.6 L53,1087 H42.8 Z"/></g>
</svg>
</body></html>
